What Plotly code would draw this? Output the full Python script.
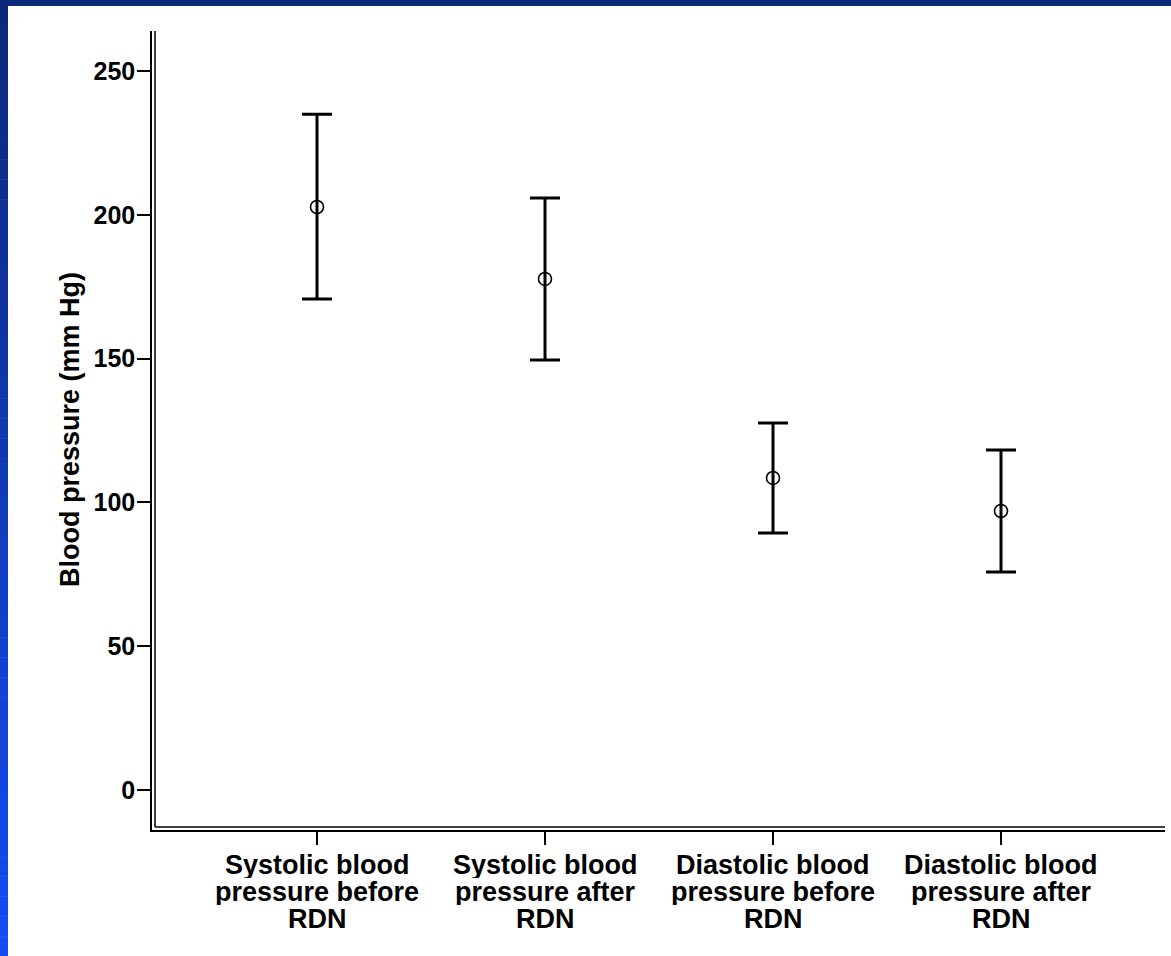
import plotly.graph_objects as go

# ---- data ----
categories = [
    "Systolic blood<br>pressure before<br>RDN",
    "Systolic blood<br>pressure after<br>RDN",
    "Diastolic blood<br>pressure before<br>RDN",
    "Diastolic blood<br>pressure after<br>RDN",
]
means = [202.7, 177.7, 108.5, 97.0]
upper = [235.0, 205.8, 127.6, 118.2]
lower = [170.7, 149.5, 89.4, 75.8]
y_ticks = [0, 50, 100, 150, 200, 250]
y_title = "Blood pressure (mm Hg)"

# ---- layout geometry (pixels) ----
W, H = 1171, 956
L, R, T, B = 152, 6, 31, 126
PW, PH = W - L - R, H - T - B
FONT = "Liberation Sans, Arial"


def px(x):
    return (x - L) / PW


def py(y):
    return (H - B - y) / PH


xs = list(range(len(categories)))
err_plus = [u - m for u, m in zip(upper, means)]
err_minus = [m - l for m, l in zip(means, lower)]

fig = go.Figure()
fig.add_trace(go.Scatter(
    x=xs, y=means, mode="markers",
    marker=dict(symbol="circle-open", size=13, color="black", line=dict(width=1.6, color="black")),
    error_y=dict(type="data", symmetric=False, array=err_plus, arrayminus=err_minus,
                 thickness=3, width=15, color="black"),
    showlegend=False, hoverinfo="skip",
))

shapes = []
# blue frame: top band + left gradient band
n = 48
top_c = (11, 40, 122)
bot_c = (20, 76, 245)
for i in range(n):
    f = i / (n - 1)
    c = tuple(int(round(a + (b - a) * f)) for a, b in zip(top_c, bot_c))
    y0 = i * H / n
    y1 = (i + 1) * H / n + 0.5
    shapes.append(dict(type="rect", xref="paper", yref="paper",
                       x0=px(0), x1=px(8), y0=py(y1), y1=py(y0),
                       fillcolor="rgb(%d,%d,%d)" % c, line=dict(width=0), layer="above"))
shapes.append(dict(type="rect", xref="paper", yref="paper",
                   x0=px(0), x1=px(W), y0=py(6), y1=py(0),
                   fillcolor="rgb(11,40,122)", line=dict(width=0), layer="above"))
# inner lines of the double axes
shapes.append(dict(type="line", xref="paper", yref="paper",
                   x0=px(155), x1=px(155), y0=py(827), y1=1,
                   line=dict(color="black", width=1.5)))
shapes.append(dict(type="line", xref="paper", yref="paper",
                   x0=px(155), x1=1, y0=py(827), y1=py(827),
                   line=dict(color="black", width=1.5)))

annotations = []
line_y = [865, 892, 919]
for i, cat in enumerate(categories):
    for j, part in enumerate(cat.split("<br>")):
        annotations.append(dict(x=xs[i], xref="x", y=py(line_y[j]), yref="paper",
                                text="<b>%s</b>" % part, showarrow=False,
                                xanchor="center", yanchor="middle", height=26,
                                font=dict(family=FONT, size=27, color="black")))
annotations.append(dict(x=px(70), xref="paper", y=py(430), yref="paper",
                        text="<b>%s</b>" % y_title, textangle=-90, showarrow=False,
                        xanchor="center", yanchor="middle",
                        font=dict(family=FONT, size=27, color="black")))

x_lo = -165 / 228
x_hi = 3 + 164 / 228
fig.update_layout(
    width=W, height=H,
    margin=dict(l=L, r=R, t=T, b=B, pad=0),
    paper_bgcolor="white", plot_bgcolor="white",
    shapes=shapes, annotations=annotations,
    xaxis=dict(range=[x_lo, x_hi], tickvals=xs, ticktext=[""] * len(xs),
               showgrid=False, zeroline=False, showline=True, linecolor="black", linewidth=1.5,
               ticks="outside", ticklen=13, tickwidth=2, tickcolor="black", fixedrange=True),
    yaxis=dict(range=[(790 - 830) / 2.876, (790 - 31) / 2.876], tickvals=y_ticks,
               showgrid=False, zeroline=False, showline=True, linecolor="black", linewidth=1.5,
               ticks="outside", ticklen=13, tickwidth=2, tickcolor="black",
               tickfont=dict(family=FONT, size=25, color="black", weight="bold"),
               ticklabelstandoff=-3,
               fixedrange=True),
)

fig.write_html("out.html", config={"displayModeBar": False},
               post_script="document.body.style.margin='0';document.body.style.overflow='hidden';")
